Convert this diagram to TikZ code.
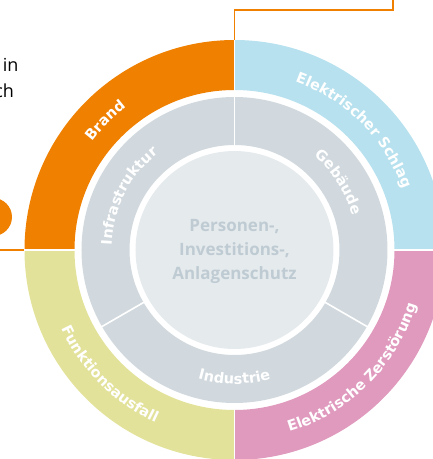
\documentclass[tikz,border=0pt]{standalone}
\usepackage{fontspec}
\setmainfont{Open Sans}
\newfontfamily\labelfont{DejaVu Sans}
\usetikzlibrary{decorations.text}
\definecolor{brandorange}{HTML}{F08000}
\definecolor{schlagblue}{HTML}{B7E1EE}
\definecolor{ausfallyellow}{HTML}{E3E29B}
\definecolor{zerstpink}{HTML}{E09ABE}
\definecolor{ringgray}{HTML}{D1D9DE}
\definecolor{coregray}{HTML}{E5EAED}
\definecolor{coretext}{HTML}{BFCBD3}
\tikzset{x=1pt,y=1pt}

\begin{document}
\begin{tikzpicture}[
    divider/.style={white,line width=1.6pt},
    leader/.style={brandorange,line width=1.5pt},
    arclabel/.style={decorate,decoration={text along path,text align=center,
        text={|\labelfont\bfseries\fontsize{14.5}{14.5}\selectfont\color{white}|#1}}}
  ]
  \useasboundingbox (-234.5,-209) rectangle (198.5,250);

  \fill[schlagblue] (0:210) arc[start angle=0,end angle=90,radius=210] -- (90:160) arc[start angle=90,end angle=0,radius=160] -- cycle;
  \fill[brandorange] (90:210) arc[start angle=90,end angle=180,radius=210] -- (180:160) arc[start angle=180,end angle=90,radius=160] -- cycle;
  \fill[ausfallyellow] (180:210) arc[start angle=180,end angle=270,radius=210] -- (270:160) arc[start angle=270,end angle=180,radius=160] -- cycle;
  \fill[zerstpink] (270:210) arc[start angle=270,end angle=360,radius=210] -- (0:160) arc[start angle=360,end angle=270,radius=160] -- cycle;
  \foreach \a in {0,90,180,270}
    \draw[divider] (\a:158) -- (\a:212);

  \fill[ringgray,even odd rule] (0,0) circle[radius=153] (0,0) circle[radius=105];
  \foreach \a in {90,-30,210}
    \draw[divider] (\a:103) -- (\a:155);
  \fill[coregray] (0,0) circle[radius=99];

  \path[arclabel=Brand] (180:179) arc[start angle=180,end angle=90,radius=179];
  \path[arclabel=Elektrischer Schlag] (100:179) arc[start angle=100,end angle=-10,radius=179];
  \path[arclabel=Funktionsausfall] (170:190) arc[start angle=170,end angle=280,radius=190];
  \path[arclabel=Elektrische Zerstörung] (260:190) arc[start angle=260,end angle=370,radius=190];
  \path[arclabel=Infrastruktur] (213:123) arc[start angle=213,end angle=93,radius=123];
  \path[arclabel=Gebäude] (93:123) arc[start angle=93,end angle=-27,radius=123];
  \path[arclabel=Industrie] (210:134) arc[start angle=210,end angle=330,radius=134];

  \node[align=center,text=coretext,font=\bfseries\fontsize{17}{24}\selectfont] (core) at (0,-1)
    {Personen-,\\Investitions-,\\Anlagenschutz};

  \coordinate (topend) at (90:210);
  \coordinate (topbend) at (0,240);
  \coordinate (topturn) at (158.5,240);
  \coordinate (topout) at (158.5,252);
  \draw[leader] (topend) -- (topbend) -- (topturn) -- (topout);

  \coordinate (leftend) at (180:210);
  \coordinate (leftout) at (-236,0);
  \draw[leader] (leftout) -- (leftend);

  \node[circle,fill=brandorange,minimum size=38pt,inner sep=0pt,text=white,
    font=\bfseries\fontsize{24}{24}\selectfont] (marker) at (-241.5,33) {2};

  \node[anchor=base east,font=\fontsize{18}{18}\selectfont] (textin) at (-212.5,179) {in};
  \node[anchor=base east,font=\fontsize{18}{18}\selectfont] (textch) at (-217,153) {ch};
\end{tikzpicture}
\end{document}
